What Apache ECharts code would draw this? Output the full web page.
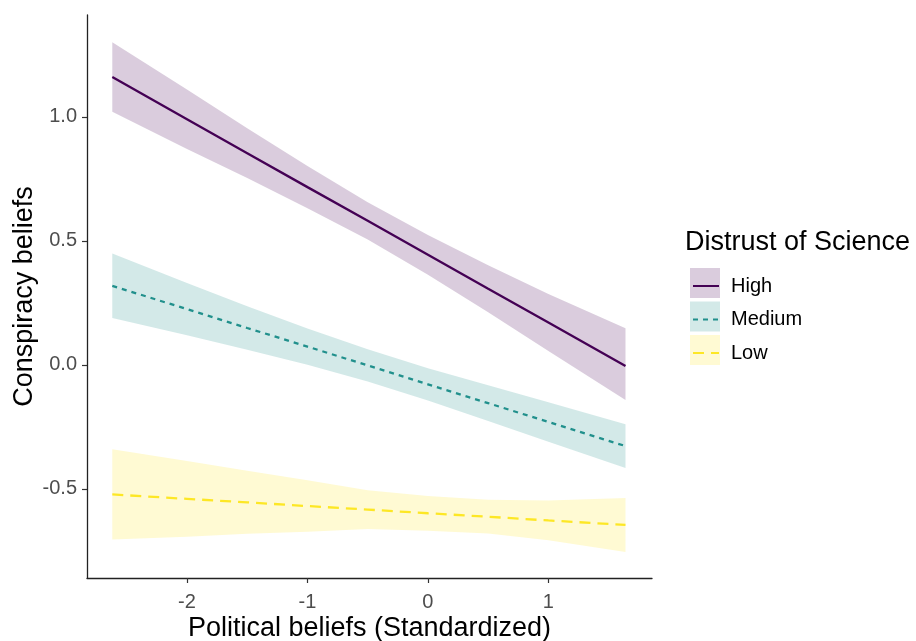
<!DOCTYPE html>
<html>
<head>
<meta charset="utf-8">
<script src="https://cdn.jsdelivr.net/npm/echarts@6/dist/echarts.min.js"></script>
<style>
html,body{margin:0;padding:0;background:#fff;}
#chart{width:916px;height:641px;}
</style>
</head>
<body>
<div id="chart"></div>
<script>
// ---- data ----
const xs = [-2.62, -2, -1.5, -1, -0.5, 0, 0.5, 1, 1.64];
const groups = ['High', 'Medium', 'Low'];
const highFit   = [1.161, 0.991, 0.854, 0.717, 0.581, 0.444, 0.307, 0.171, -0.004];
const highUpper = [1.301, 1.111, 0.954, 0.802, 0.656, 0.524, 0.402, 0.286, 0.148];
const highLower = [1.021, 0.871, 0.754, 0.632, 0.506, 0.364, 0.212, 0.056, -0.141];
const medFit    = [0.319, 0.225, 0.149, 0.074, -0.002, -0.078, -0.154, -0.230, -0.327];
const medUpper  = [0.449, 0.330, 0.237, 0.147, 0.063, -0.013, -0.082, -0.150, -0.239];
const medLower  = [0.189, 0.120, 0.061, 0.001, -0.067, -0.143, -0.226, -0.310, -0.415];
const lowFit    = [-0.522, -0.540, -0.554, -0.569, -0.583, -0.598, -0.612, -0.627, -0.645];
const lowUpper  = [-0.340, -0.387, -0.427, -0.465, -0.505, -0.528, -0.544, -0.547, -0.536];
const lowLower  = [-0.704, -0.693, -0.681, -0.673, -0.661, -0.668, -0.680, -0.707, -0.754];
const xTicks = [-2, -1, 0, 1];
const yTicks = [-0.5, 0, 0.5, 1.0];

const lineColors = ['#440154', '#21908C', '#FDE725'];
const bandColors = ['rgba(68,1,84,0.2)', 'rgba(33,144,140,0.2)', 'rgba(253,231,37,0.2)'];
const dashes = ['solid', [5, 5], [11, 7]];
const fits = [highFit, medFit, lowFit];
const uppers = [highUpper, medUpper, lowUpper];
const lowers = [highLower, medLower, lowLower];

const chart = echarts.init(document.getElementById('chart'), null, {renderer: 'canvas'});

function bandSeries(i) {
  const data = xs.map((x, k) => [x, lowers[i][k], uppers[i][k]]);
  return {
    type: 'custom',
    name: groups[i] + ' band',
    z: 1,
    clip: true,
    silent: true,
    itemStyle: {color: bandColors[i]},
    encode: {x: 0, y: [1, 2]},
    data: data,
    renderItem: function (params, api) {
      if (params.dataIndex !== 0) return null;
      const pts = [];
      for (let k = 0; k < data.length; k++) pts.push(api.coord([data[k][0], data[k][2]]));
      for (let k = data.length - 1; k >= 0; k--) pts.push(api.coord([data[k][0], data[k][1]]));
      return {type: 'polygon', shape: {points: pts}, style: {fill: bandColors[i]}};
    }
  };
}

function lineSeries(i) {
  return {
    type: 'line',
    name: groups[i],
    z: 3,
    symbol: 'none',
    silent: true,
    data: xs.map((x, k) => [x, fits[i][k]]),
    itemStyle: {color: lineColors[i]},
    lineStyle: {color: lineColors[i], width: 2.3, type: dashes[i]}
  };
}

const series = [];
for (let i = 0; i < 3; i++) series.push(lineSeries(i));
for (let i = 0; i < 3; i++) series.push(bandSeries(i));

const FONT = 'Liberation Sans, Arial, sans-serif';

const legends = [{
  orient: 'vertical', left: 685, top: 263,
  itemWidth: 30, itemHeight: 30, itemGap: 3.5,
  icon: 'rect', selectedMode: false,
  data: groups.map((g, i) => ({name: g + ' band', itemStyle: {color: bandColors[i], borderWidth: 0}})),
  formatter: function () { return ''; }
}];
groups.forEach(function (g, i) {
  legends.push({
    orient: 'vertical', left: 687, top: 263 + i * 33.5,
    itemWidth: 26, itemHeight: 30,
    selectedMode: false,
    itemStyle: {opacity: 0},
    data: [g],
    textStyle: {fontSize: 20, lineHeight: 30, color: '#000', fontFamily: FONT, padding: [6, 0, 0, 7]}
  });
});

chart.setOption({
  animation: false,
  backgroundColor: '#ffffff',
  textStyle: {fontFamily: FONT},
  title: {
    text: 'Distrust of Science',
    left: 685, top: 229, padding: 0,
    textStyle: {fontSize: 27, fontWeight: 'normal', color: '#000', fontFamily: FONT}
  },
  legend: legends,
  grid: {left: 87, right: 264, top: 15, bottom: 63, containLabel: false, outerBoundsMode: 'none'},
  xAxis: {
    type: 'value', min: -2.83, max: 1.86,
    name: 'Political beliefs (Standardized)',
    nameLocation: 'middle', nameGap: 37, nameMoveOverlap: false,
    nameTextStyle: {fontSize: 27, color: '#000', fontFamily: FONT},
    axisLine: {show: true, onZero: false, lineStyle: {color: '#222', width: 1.3}},
    axisTick: {show: true, length: 5, customValues: xTicks, lineStyle: {color: '#333', width: 1.2}},
    axisLabel: {customValues: xTicks, fontSize: 20, color: '#4d4d4d', margin: 14, fontFamily: FONT},
    splitLine: {show: false}
  },
  yAxis: {
    type: 'value', min: -0.859, max: 1.411,
    name: 'Conspiracy beliefs',
    nameLocation: 'middle', nameGap: 49, nameMoveOverlap: false,
    nameTextStyle: {fontSize: 27, color: '#000', fontFamily: FONT},
    axisLine: {show: true, onZero: false, lineStyle: {color: '#222', width: 1.3}},
    axisTick: {show: true, length: 5, customValues: yTicks, lineStyle: {color: '#333', width: 1.2}},
    axisLabel: {customValues: yTicks, fontSize: 20, color: '#4d4d4d', margin: 10, fontFamily: FONT,
      formatter: function (v) { return v.toFixed(1); }},
    splitLine: {show: false}
  },
  series: series
});
</script>
</body>
</html>
